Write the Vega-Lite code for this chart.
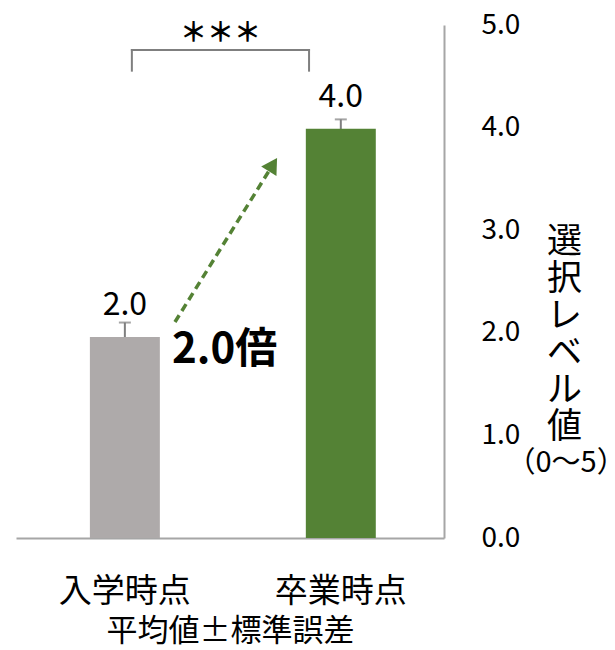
{
  "$schema": "https://vega.github.io/schema/vega-lite/v6.json",
  "width": 428,
  "height": 513,
  "autosize": {"type": "none"},
  "padding": {"left": 16, "top": 25, "right": 171, "bottom": 112},
  "background": "white",
  "config": {"font": "Noto Sans CJK JP", "view": {"stroke": null}},
  "datasets": {
    "bars": [
      {"時点": "入学時点", "平均値": 1.96, "標準誤差": 0.14},
      {"時点": "卒業時点", "平均値": 3.99, "標準誤差": 0.09}
    ],
    "bracket": [
      {"左": "入学時点", "右": "卒業時点", "上": 4.756, "下": 4.555, "記号位置": 4.913}
    ],
    "arrow": [
      {"始点": "入学時点", "終点": "卒業時点", "始点値": 2.105, "終点値": 3.575, "先端値": 3.639, "倍率位置": 1.832}
    ],
    "range": [
      {"基準": "卒業時点", "表記": "（0～5）", "位置": 0.73}
    ]
  },
  "layer": [
    {
      "data": {"name": "bars"},
      "mark": {"type": "errorbar", "color": "#7f7f7f", "thickness": 2, "ticks": {"size": 12, "thickness": 2, "color": "#7f7f7f"}},
      "encoding": {
        "x": {"field": "時点", "type": "nominal", "sort": null,
          "scale": {"type": "band", "domain": ["入学時点", "卒業時点"], "paddingInner": 0.676, "paddingOuter": 0.329, "align": 0.52},
          "axis": {"title": "平均値±標準誤差", "labelAngle": 0, "labelFontSize": 33, "titleFontSize": 31, "labelPadding": 37, "titlePadding": 8, "ticks": false, "domainColor": "#a6a6a6", "domainWidth": 2, "labelColor": "#000", "titleColor": "#000", "titleFontWeight": "normal"}},
        "y": {"field": "平均値", "type": "quantitative",
          "scale": {"domain": [0, 5], "nice": false, "zero": true},
          "axis": {"orient": "right", "values": [0, 1, 2, 3, 4, 5], "format": ".1f", "grid": false, "ticks": false, "domainColor": "#a6a6a6", "domainWidth": 2, "labelFontSize": 28, "labelPadding": 37, "labelColor": "#000", "labelFlush": false, "labelOverlap": false,
            "title": ["選", "択", "レ", "ベ", "ル", "値"], "titleAngle": 0, "titleFontSize": 35, "titleLineHeight": 37, "titleAlign": "center", "titleBaseline": "top", "titleX": 120, "titleY": 199, "titleFontWeight": "normal", "titleColor": "#000"}},
        "yError": {"field": "標準誤差"}
      }
    },
    {
      "data": {"name": "bars"},
      "mark": {"type": "bar"},
      "encoding": {
        "x": {"field": "時点", "type": "nominal", "sort": null},
        "y": {"field": "平均値", "type": "quantitative"},
        "color": {"field": "時点", "type": "nominal", "scale": {"domain": ["入学時点", "卒業時点"], "range": ["#aeaaaa", "#548235"]}, "legend": null}
      }
    },
    {
      "data": {"name": "bars"},
      "mark": {"type": "text", "fontSize": 32, "baseline": "alphabetic", "dy": -22, "color": "#000"},
      "encoding": {
        "x": {"field": "時点", "type": "nominal", "sort": null},
        "y": {"field": "平均値", "type": "quantitative"},
        "text": {"field": "平均値", "type": "quantitative", "format": ".1f"}
      }
    },
    {
      "data": {"name": "range"},
      "mark": {"type": "text", "fontSize": 29, "baseline": "middle", "align": "center", "color": "#000"},
      "encoding": {
        "x": {"field": "基準", "type": "nominal", "bandPosition": 3.72},
        "y": {"field": "位置", "type": "quantitative"},
        "text": {"field": "表記", "type": "nominal"}
      }
    },
    {
      "data": {"name": "bracket"},
      "mark": {"type": "rule", "color": "#7f7f7f", "strokeWidth": 2, "strokeCap": "square"},
      "encoding": {
        "x": {"field": "左", "type": "nominal", "bandPosition": 0.6},
        "x2": {"field": "右", "bandPosition": 0.046},
        "y": {"field": "上", "type": "quantitative"}
      }
    },
    {
      "data": {"name": "bracket"},
      "mark": {"type": "rule", "color": "#7f7f7f", "strokeWidth": 2, "strokeCap": "square"},
      "encoding": {
        "x": {"field": "左", "type": "nominal", "bandPosition": 0.6},
        "y": {"field": "上", "type": "quantitative"},
        "y2": {"field": "下"}
      }
    },
    {
      "data": {"name": "bracket"},
      "mark": {"type": "rule", "color": "#7f7f7f", "strokeWidth": 2, "strokeCap": "square"},
      "encoding": {
        "x": {"field": "右", "type": "nominal", "bandPosition": 0.046},
        "y": {"field": "上", "type": "quantitative"},
        "y2": {"field": "下"}
      }
    },
    {
      "data": {"name": "bracket"},
      "mark": {"type": "text", "text": "＊＊＊", "fontSize": 27, "fontWeight": "bold", "baseline": "middle", "align": "center", "color": "#000"},
      "encoding": {
        "x": {"field": "左", "type": "nominal", "bandPosition": 1.866},
        "y": {"field": "記号位置", "type": "quantitative"}
      }
    },
    {
      "data": {"name": "arrow"},
      "mark": {"type": "rule", "color": "#548235", "strokeWidth": 3.5, "strokeDash": [8, 5]},
      "encoding": {
        "x": {"field": "始点", "type": "nominal", "bandPosition": 1.216},
        "x2": {"field": "終点", "bandPosition": -0.529},
        "y": {"field": "始点値", "type": "quantitative"},
        "y2": {"field": "終点値"}
      }
    },
    {
      "data": {"name": "arrow"},
      "mark": {"type": "point", "shape": "triangle-up", "angle": 32, "size": 324, "filled": true, "opacity": 1, "color": "#548235"},
      "encoding": {
        "x": {"field": "終点", "type": "nominal", "bandPosition": -0.47},
        "y": {"field": "先端値", "type": "quantitative"}
      }
    },
    {
      "data": {"name": "arrow"},
      "mark": {"type": "text", "text": "2.0倍", "fontSize": 42, "fontWeight": "bold", "align": "left", "baseline": "middle", "color": "#000"},
      "encoding": {
        "x": {"field": "始点", "type": "nominal", "bandPosition": 1.173},
        "y": {"field": "倍率位置", "type": "quantitative"}
      }
    }
  ]
}
